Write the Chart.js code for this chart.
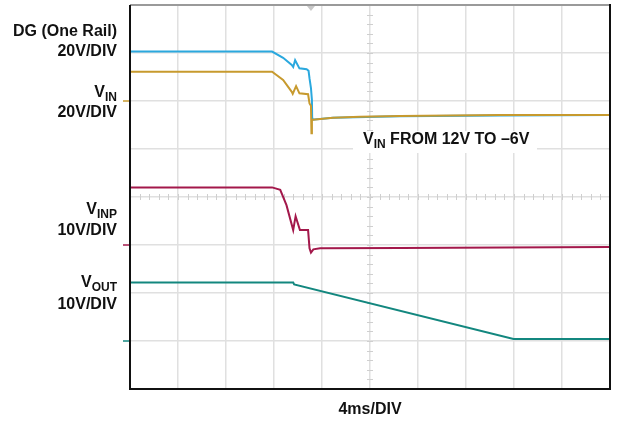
<!DOCTYPE html>
<html>
<head>
<meta charset="utf-8">
<script src="https://cdn.jsdelivr.net/npm/chart.js@4/dist/chart.umd.min.js"></script>
<style>
  html, body { margin: 0; padding: 0; background: #fff; }
  #wrap { width: 620px; height: 423px; position: relative; }
</style>
</head>
<body>
<div id="wrap"><canvas id="scope"></canvas></div>
<script>
// time in ms (4ms/DIV, 10 divisions), level in screen divisions (8 divisions)
const dgTime   = [0, 11.84, 12.76, 13.48, 13.6, 13.76, 14.12, 14.72, 14.88, 14.96, 15.08, 15.16, 15.18, 15.2, 16.9, 22.5, 30.8, 40];
const dgLevel  = [7.03, 7.03, 6.90, 6.75, 6.71, 6.85, 6.68, 6.66, 6.63, 6.47, 6.27, 6.02, 5.65, 5.61, 5.65, 5.68, 5.70, 5.71];

const vinTime  = [0, 11.84, 12.76, 13.48, 13.56, 13.84, 14.12, 14.84, 14.96, 15.08, 15.12, 15.16, 15.24, 16.92, 19.16, 22.52, 26.68, 30.84, 40];
const vinLevel = [6.61, 6.61, 6.44, 6.19, 6.15, 6.31, 6.16, 6.14, 5.95, 5.90, 5.33, 5.60, 5.61, 5.65, 5.67, 5.69, 5.70, 5.71, 5.71];

const vinpTime  = [0, 11.84, 12.52, 13.04, 13.6, 13.8, 14.16, 14.84, 14.96, 15.08, 15.28, 15.84, 22.52, 40];
const vinpLevel = [4.20, 4.20, 4.15, 3.83, 3.31, 3.60, 3.31, 3.31, 2.93, 2.84, 2.91, 2.93, 2.94, 2.96];

const voutTime  = [0, 13.6, 13.68, 31.96, 40];
const voutLevel = [2.22, 2.22, 2.18, 1.04, 1.04];

// ground markers at the left edge
const groundLevels = [6.0, 3.0, 1.0];
const triggerTime = 15.08;

const channelNames  = ['DG (One Rail)', 'VIN', 'VINP', 'VOUT'];
const channelScales = ['20V/DIV', '20V/DIV', '10V/DIV', '10V/DIV'];
const timeLabel = '4ms/DIV';
const noteLabel = ['V', 'IN', ' FROM 12V TO \u20136V'];

const colors = { dg: '#2aa8de', vin: '#c79a2e', vinp: '#a3184b', vout: '#13877f' };

function pts(xs, ys) {
    return xs.map((x, i) => ({ x: x, y: ys[i] }));
}

const FONT = 'bold 16px "Liberation Sans", Arial, sans-serif';
const SUB = 'bold 12px "Liberation Sans", Arial, sans-serif';

// text with subscript, right aligned at x
function subText(ctx, main, sub, x, y) {
    ctx.font = SUB;
    const ws = ctx.measureText(sub).width;
    ctx.font = FONT;
    const wm = ctx.measureText(main).width;
    ctx.textAlign = 'left';
    ctx.fillText(main, x - ws - wm, y);
    ctx.font = SUB;
    ctx.fillText(sub, x - ws, y + 5);
}

const scopeDecor = {
    id: 'scopeDecor',
    beforeDatasetsDraw(chart) {
        const { ctx, chartArea: a, scales: { x, y } } = chart;
        ctx.save();
        // minor ticks on center lines
        ctx.strokeStyle = '#cfcfcf';
        ctx.lineWidth = 1;
        const cx = x.getPixelForValue(20), cy = y.getPixelForValue(4);
        for (let v = 0; v <= 40; v += 0.8) {
            const px = Math.round(x.getPixelForValue(v)) + 0.5;
            ctx.beginPath(); ctx.moveTo(px, cy - 3); ctx.lineTo(px, cy + 3); ctx.stroke();
        }
        for (let v = 0; v <= 8; v += 0.2) {
            const py = Math.round(y.getPixelForValue(v)) + 0.5;
            ctx.beginPath(); ctx.moveTo(cx - 3, py); ctx.lineTo(cx + 3, py); ctx.stroke();
        }
        // white box behind the note
        ctx.fillStyle = '#fff';
        ctx.fillRect(353, 131, 184, 22);
        ctx.restore();
    },
    afterDatasetsDraw(chart) {
        const { ctx, chartArea: a, scales: { x, y } } = chart;
        ctx.save();
        // frame
        ctx.lineWidth = 2;
        ctx.strokeStyle = '#9a9a9a';
        ctx.beginPath(); ctx.moveTo(a.left, a.top); ctx.lineTo(a.right, a.top); ctx.stroke();
        ctx.strokeStyle = '#111';
        ctx.beginPath();
        ctx.moveTo(a.left, a.top); ctx.lineTo(a.left, a.bottom);
        ctx.lineTo(a.right, a.bottom); ctx.lineTo(a.right, a.top - 1);
        ctx.stroke();

        // trigger marker
        const tx = x.getPixelForValue(triggerTime);
        ctx.fillStyle = '#c8c8c8';
        ctx.beginPath();
        ctx.moveTo(tx - 4, a.top + 1); ctx.lineTo(tx + 4, a.top + 1); ctx.lineTo(tx, a.top + 6);
        ctx.closePath(); ctx.fill();

        // ground markers
        const gc = [colors.vin, colors.vinp, colors.vout];
        ctx.lineWidth = 1.5;
        groundLevels.forEach((g, i) => {
            const py = y.getPixelForValue(g);
            ctx.strokeStyle = gc[i];
            ctx.beginPath(); ctx.moveTo(a.left - 7, py); ctx.lineTo(a.left - 1, py); ctx.stroke();
        });

        // channel labels
        ctx.fillStyle = '#111';
        ctx.textBaseline = 'middle';
        ctx.font = FONT;
        ctx.textAlign = 'right';
        const lx = 117;
        ctx.fillText(channelNames[0], lx, 32);
        ctx.fillText(channelScales[0], lx, 52);
        subText(ctx, 'V', 'IN', lx, 93);
        ctx.font = FONT; ctx.textAlign = 'right';
        ctx.fillText(channelScales[1], lx, 113);
        subText(ctx, 'V', 'INP', lx, 210);
        ctx.font = FONT; ctx.textAlign = 'right';
        ctx.fillText(channelScales[2], lx, 231);
        subText(ctx, 'V', 'OUT', lx, 283);
        ctx.font = FONT; ctx.textAlign = 'right';
        ctx.fillText(channelScales[3], lx, 305);

        // note
        ctx.textAlign = 'left';
        let nx = 363;
        ctx.font = FONT;
        ctx.fillText(noteLabel[0], nx, 140);
        nx += ctx.measureText(noteLabel[0]).width;
        ctx.font = SUB;
        ctx.fillText(noteLabel[1], nx, 145);
        nx += ctx.measureText(noteLabel[1]).width;
        ctx.font = FONT;
        ctx.fillText(noteLabel[2], nx, 140);

        // time base
        ctx.textAlign = 'center';
        ctx.fillText(timeLabel, x.getPixelForValue(20), 410);
        ctx.restore();
    }
};

function line(data, color) {
    return {
        data: data,
        borderColor: color,
        borderWidth: 2,
        pointRadius: 0,
        tension: 0,
        fill: false
    };
}

new Chart(document.getElementById('scope'), {
    type: 'line',
    data: {
        datasets: [
            line(pts(vinTime, vinLevel), colors.vin),
            line(pts(dgTime, dgLevel), colors.dg),
            line(pts(vinpTime, vinpLevel), colors.vinp),
            line(pts(voutTime, voutLevel), colors.vout)
        ]
    },
    options: {
        responsive: true,
        maintainAspectRatio: false,
        animation: false,
        layout: { padding: { left: 130, right: 10, top: 5, bottom: 34 } },
        plugins: { legend: { display: false }, tooltip: { enabled: false } },
        scales: {
            x: {
                type: 'linear', min: 0, max: 40,
                ticks: { display: false, stepSize: 4 },
                grid: { color: '#e0e0e0', lineWidth: 1.5, drawTicks: false },
                border: { display: false }
            },
            y: {
                type: 'linear', min: 0, max: 8,
                ticks: { display: false, stepSize: 1 },
                grid: { color: '#e0e0e0', lineWidth: 1.5, drawTicks: false },
                border: { display: false }
            }
        }
    },
    plugins: [scopeDecor]
});
</script>
</body>
</html>
